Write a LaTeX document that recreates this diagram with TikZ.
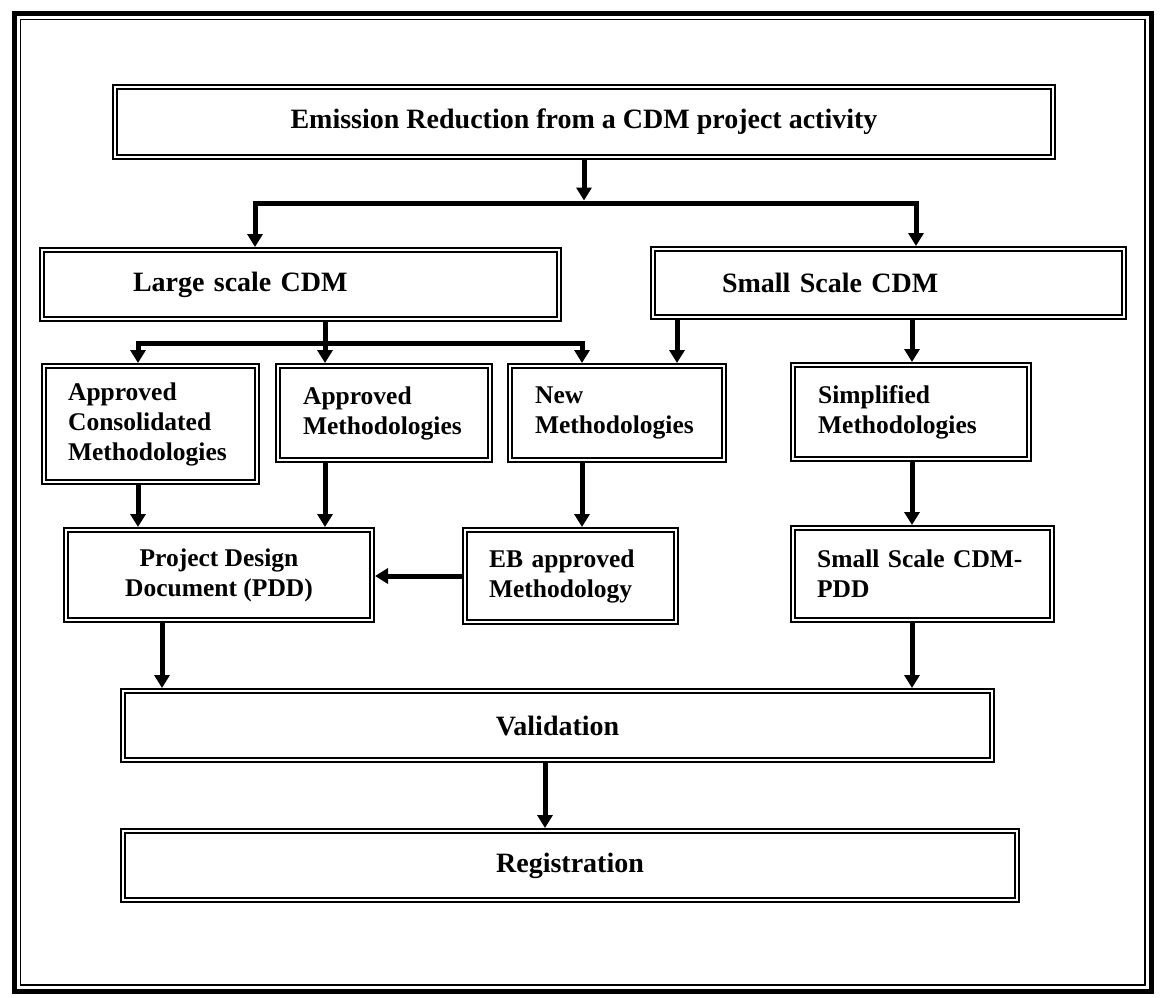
\documentclass[tikz,border=0pt]{standalone}
\usepackage{fontspec}
\setmainfont{Liberation Serif}
\usetikzlibrary{arrows.meta}
\begin{document}
\begin{tikzpicture}[x=1pt,y=-1pt,
  >={Triangle[width=15pt,length=13pt]},
  box/.style={draw, double, line width=2pt, double distance=2.2pt,
    outer sep=3.1pt, inner ysep=0pt, rectangle},
  bigbox/.style={box, font=\bfseries\fontsize{28}{32}\selectfont, inner xsep=0pt},
  medbox/.style={box, font=\bfseries\fontsize{25.5}{30}\selectfont, align=left},
  link/.style={line width=5pt},
  arr/.style={line width=5pt, ->},
]
\useasboundingbox (0,0) rectangle (1160,997);

% page frame: heavy outer rule with a thin rule inside
\draw[line width=5pt] (14.5,13.5) rectangle (1151,991.5);
\draw[line width=1.5pt] (20.5,19.5) rectangle (1145,985);

% boxes
\node[bigbox, minimum width=937.8pt, minimum height=69.8pt] (emis) at (584,122)
  {Emission Reduction from a CDM project activity};
\node[bigbox, align=left, text width=335pt, inner xsep=90.9pt, minimum height=68.8pt]
  (large) at (300.5,284.5) {Large scale CDM};
\node[bigbox, align=left, text width=333pt, inner xsep=68.9pt, minimum height=67.8pt]
  (smallcdm) at (888.5,283) {Small Scale CDM};

\node[medbox, text width=164.8pt, inner xsep=24pt, minimum height=115.8pt]
  (acm) at (150.5,424) {Approved\\Consolidated\\Methodologies};
\node[medbox, text width=161.8pt, inner xsep=25pt, minimum height=93.8pt]
  (am) at (384,413) {Approved\\Methodologies};
\node[medbox, text width=163.8pt, inner xsep=25pt, minimum height=93.8pt]
  (nm) at (617,413) {New\\Methodologies};
\node[medbox, text width=185.8pt, inner xsep=25pt, minimum height=93.8pt]
  (sm) at (911,412) {Simplified\\Methodologies};

\node[medbox, align=center, minimum width=305.8pt, minimum height=89.8pt, inner xsep=0pt]
  (pdd) at (219,575) {Project Design\\Document (PDD)};
\node[medbox, text width=162.8pt, inner xsep=24pt, minimum height=91.8pt]
  (eb) at (570.5,576) {EB approved\\Methodology};
\node[medbox, text width=210.8pt, inner xsep=24pt, minimum height=91.8pt]
  (spdd) at (922.5,574) {Small Scale CDM-\\PDD};

\node[bigbox, minimum width=868.8pt, minimum height=68.8pt] (val) at (557.5,725.5) {Validation};
\node[bigbox, minimum width=893.8pt, minimum height=68.8pt] (reg) at (570,865.5) {Registration};

% junctions and connector columns
\coordinate (ja) at (584,203);
\coordinate (jl) at (255,203);
\coordinate (jr) at (916,203);
\coordinate (kl) at (138,343);
\coordinate (kc) at (325,343);
\coordinate (kr) at (582,343);
\coordinate (xn) at (677,343);
\coordinate (xs) at (912,343);
\coordinate (xp) at (162,655);
\coordinate (xv) at (545,795);

% connectors
\draw[arr, shorten >=2.5pt] (emis.south -| ja) -- (ja);
\draw[link, <->] (large.north -| jl) -- (jl) -- (jr) -- (smallcdm.north -| jr);
\draw[link, <->] (acm.north -| kl) -- (kl) -- (kr) -- (nm.north -| kr);
\draw[arr] (large.south -| kc) -- (am.north -| kc);
\draw[arr] (smallcdm.south -| xn) -- (nm.north -| xn);
\draw[arr] (smallcdm.south -| xs) -- (sm.north -| xs);
\draw[arr] (acm.south -| kl) -- (pdd.north -| kl);
\draw[arr] (am.south -| kc) -- (pdd.north -| kc);
\draw[arr] (nm.south -| kr) -- (eb.north -| kr);
\draw[arr] (eb.west) -- (eb.west -| pdd.east);
\draw[arr] (sm.south -| xs) -- (spdd.north -| xs);
\draw[arr] (pdd.south -| xp) -- (val.north -| xp);
\draw[arr] (spdd.south -| xs) -- (val.north -| xs);
\draw[arr] (val.south -| xv) -- (reg.north -| xv);
\end{tikzpicture}
\end{document}
